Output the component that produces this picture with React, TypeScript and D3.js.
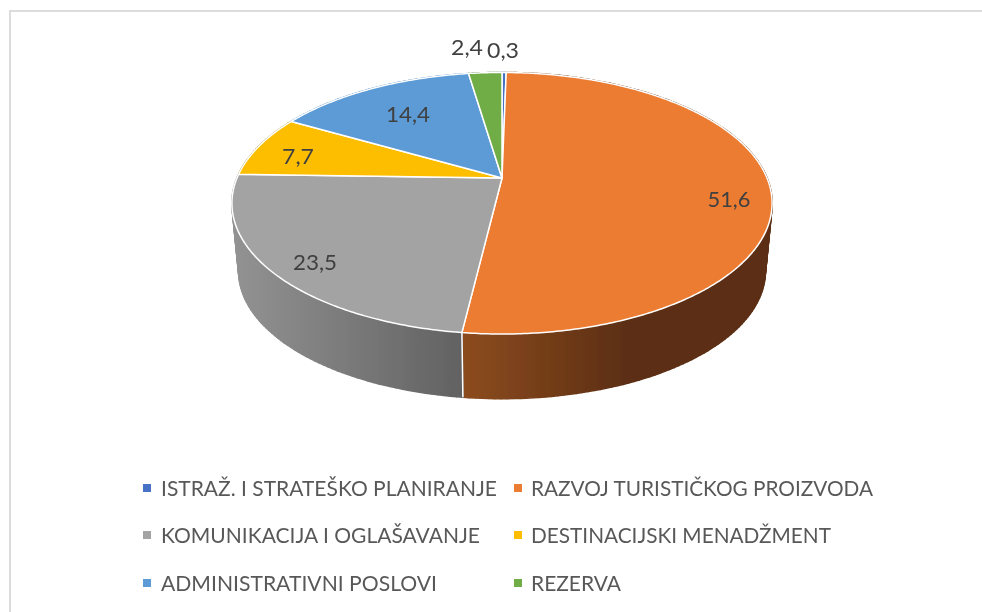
import React from "react";
import * as d3 from "d3";

const categories = [
  "ISTRAŽ. I STRATEŠKO PLANIRANJE",
  "RAZVOJ TURISTIČKOG PROIZVODA",
  "KOMUNIKACIJA I OGLAŠAVANJE",
  "DESTINACIJSKI MENADŽMENT",
  "ADMINISTRATIVNI POSLOVI",
  "REZERVA",
];
const values = [0.3, 51.6, 23.5, 7.7, 14.4, 2.4];
const valueLabels = ["0,3", "51,6", "23,5", "7,7", "14,4", "2,4"];
const colors = ["#4472C4", "#EC7C31", "#A3A3A3", "#FDBE00", "#5B9BD5", "#70AD47"];
const wallStops: [string, string][] = [
  ["#29447a", "#29447a"],
  ["#8c4b1f", "#5c2f12"],
  ["#929292", "#616161"],
  ["#997300", "#997300"],
  ["#2e75b6", "#2e75b6"],
  ["#43682b", "#43682b"],
];
const wallRanges: [number, number][] = [
  [0, 100],
  [465, 625],
  [236, 465],
  [0, 100],
  [0, 100],
  [0, 100],
];
const labelPos: [number, number][] = [
  [503, 49],
  [729, 198],
  [315, 261],
  [298, 155],
  [408, 113],
  [467, 46],
];
const labelWidth = [32, 43, 44, 32, 44, 32];
const legendCol = [143, 514];
const legendRow = [488, 535, 583];
const legendWidth = [336, 342, 319, 300, 276, 90];

// perspective disc projection
const cx = 502;
const cyTop = 178;
const cyBottom = 246.5;
const R = 265;
const A = 125.9;
const K = 0.1931;
const BOTTOM_SCALE = 0.975;

function project(angle: number, level: "top" | "bottom"): [number, number] {
  const u = Math.sin(angle);
  const v = -Math.cos(angle);
  const w = 1 - K * v;
  if (level === "top") return [cx + (R * u) / w, cyTop + (A * v) / w];
  return [cx + (BOTTOM_SCALE * R * u) / w, cyBottom + (BOTTOM_SCALE * A * v) / w];
}

function samples(a0: number, a1: number, step: number): number[] {
  const n = Math.max(2, Math.ceil(Math.abs(a1 - a0) / step));
  return d3.range(n + 1).map((i) => a0 + ((a1 - a0) * i) / n);
}

const pieLayout = d3.pie<number>().sort(null).startAngle(0).endAngle(2 * Math.PI);
const line = d3.line();

export default function App() {
  const arcs = pieLayout(values);
  return (
    <svg
      width={982}
      height={612}
      style={{ position: "absolute", left: 0, top: 0, background: "#fff", fontFamily: "Lato, sans-serif" }}
    >
      <defs>
        <filter id="soft" x="0" y="0" width="100%" height="100%">
          <feGaussianBlur stdDeviation="0.45" />
        </filter>
        {wallStops.map((s, i) => (
          <linearGradient
            key={i}
            id={`wall${i}`}
            gradientUnits="userSpaceOnUse"
            x1={wallRanges[i][0]}
            x2={wallRanges[i][1]}
            y1={0}
            y2={0}
          >
            <stop offset="0" stopColor={s[0]} />
            <stop offset="1" stopColor={s[1]} />
          </linearGradient>
        ))}
      </defs>
      <g filter="url(#soft)">
        <path d="M990,10.5H9.5V620" fill="none" stroke="#dcdcdc" strokeWidth={3} />
        {arcs.map((a, i) => {
          const ts = samples(a.startAngle, a.endAngle, 0.02);
          return (
            <g key={i} fill={`url(#wall${i})`} stroke={`url(#wall${i})`} strokeWidth={1.6} strokeLinejoin="round">
              {ts.slice(1).map((t, j) => (
                <path
                  key={j}
                  d={
                    line([
                      project(ts[j], "top"),
                      project(t, "top"),
                      project(t, "bottom"),
                      project(ts[j], "bottom"),
                    ]) + "Z"
                  }
                />
              ))}
            </g>
          );
        })}
        {arcs.map((a, i) => {
          const v = -Math.cos(a.endAngle);
          if (v < 0.2) return null;
          return (
            <path
              key={i}
              d={line([project(a.endAngle, "top"), project(a.endAngle, "bottom")]) || ""}
              stroke="#fff"
              strokeWidth={1.5}
            />
          );
        })}
        {arcs.map((a, i) => {
          const ts = samples(a.startAngle, a.endAngle, 0.01);
          const pts: [number, number][] = [[cx, cyTop], ...ts.map((t) => project(t, "top"))];
          return (
            <path
              key={i}
              d={line(pts) + "Z"}
              fill={colors[i]}
              stroke="#fff"
              strokeWidth={1.5}
              strokeLinejoin="round"
            />
          );
        })}
        {valueLabels.map((t, i) => (
          <text
            key={i}
            x={labelPos[i][0]}
            y={labelPos[i][1]}
            textAnchor="middle"
            dominantBaseline="central"
            fontSize={22}
            fill="#404040"
            textLength={labelWidth[i]}
            lengthAdjust="spacingAndGlyphs"
          >
            {t}
          </text>
        ))}
        {categories.map((c, i) => {
          const col = legendCol[i % 2];
          const y = legendRow[Math.floor(i / 2)];
          return (
            <g key={c}>
              <rect x={col} y={y - 4} width={8} height={8} fill={colors[i]} />
              <text
                x={col + 18 - (i % 2)}
                y={y}
                dominantBaseline="central"
                fontSize={21.5}
                fill="#595959"
                textLength={legendWidth[i]}
                lengthAdjust="spacingAndGlyphs"
              >
                {c}
              </text>
            </g>
          );
        })}
      </g>
    </svg>
  );
}
